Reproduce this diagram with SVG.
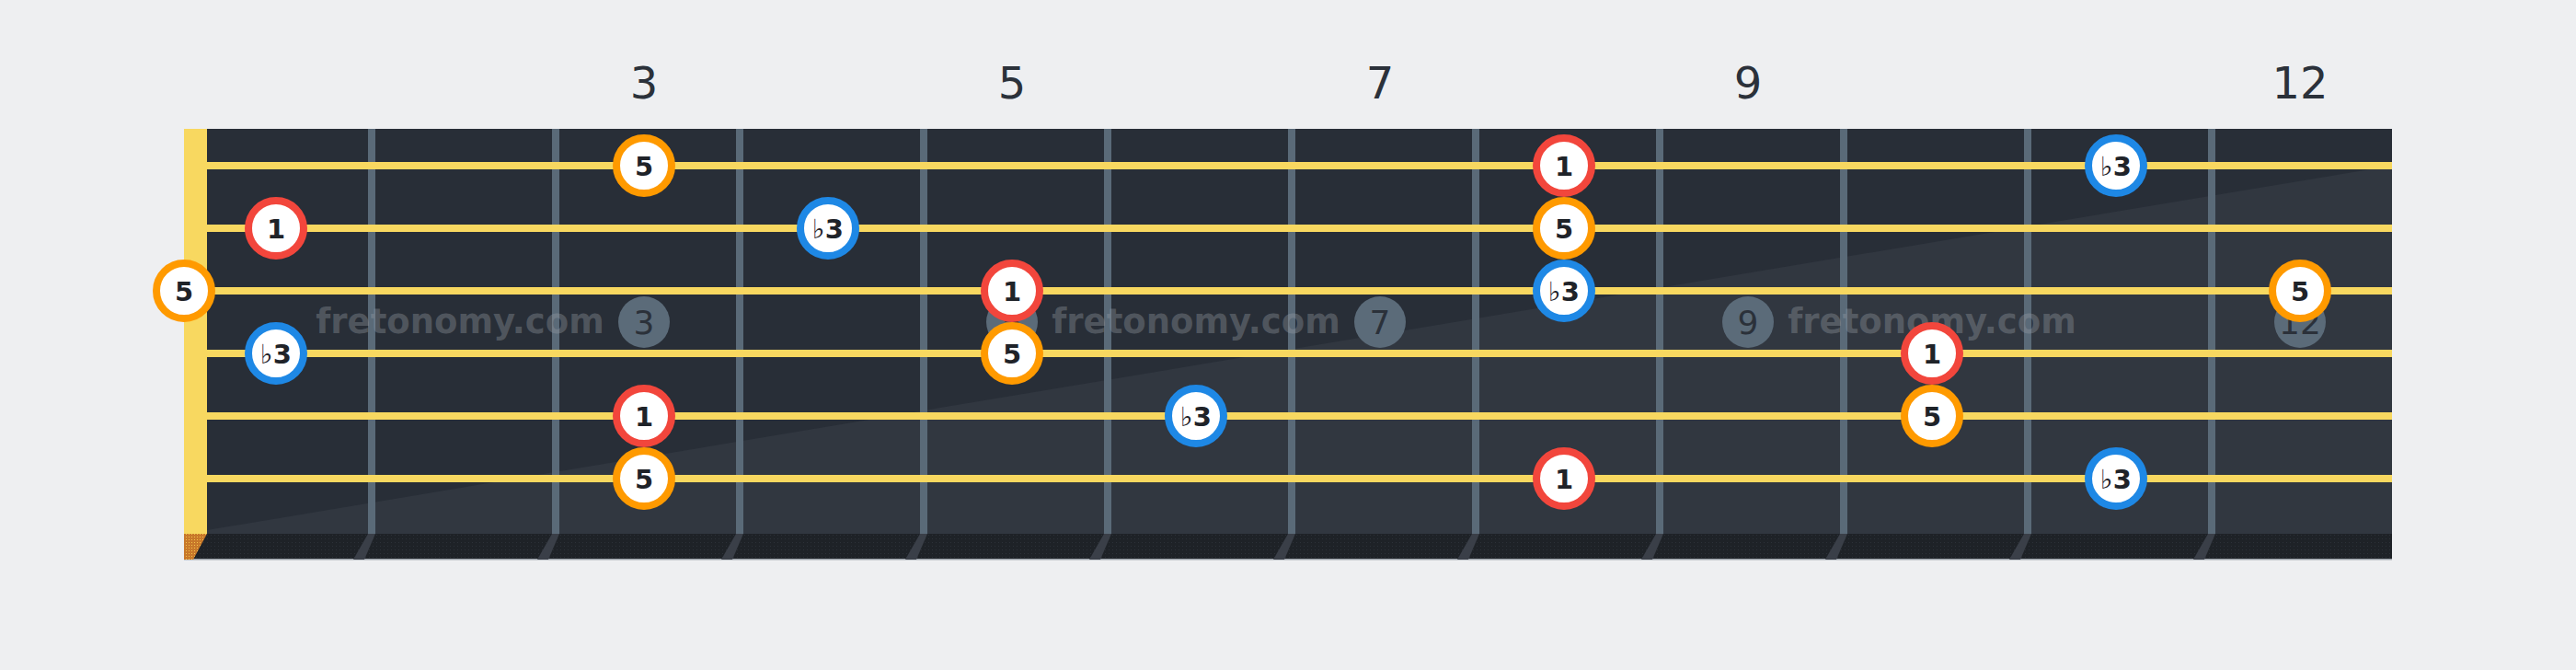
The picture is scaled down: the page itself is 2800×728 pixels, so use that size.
<svg xmlns="http://www.w3.org/2000/svg" width="2800" height="728" viewBox="0 0 2800 728">
<style>
.lbl{font-family:"DejaVu Sans",sans-serif;font-size:48px;fill:#2b313a;text-anchor:middle}
.inl{fill:#5b6b79}
.inlt{font-family:"DejaVu Sans",sans-serif;font-size:36px;fill:#2b313a;text-anchor:middle}
.wm{font-family:"DejaVu Sans",sans-serif;font-weight:bold;font-size:37px;fill:#9aa0a8;fill-opacity:0.36;text-anchor:middle}
.fret{fill:#5a6a78}
.str{fill:#f8d860}
.fs{fill:#3a3f48}
.n circle{fill:#ffffff;stroke-width:8}
.r circle{stroke:#f2463c}
.o circle{stroke:#ff9a00}
.b circle{stroke:#1e88e5}
.n text{font-family:"DejaVu Sans",sans-serif;font-weight:bold;font-size:29px;fill:#1f2329;text-anchor:middle}
.fl{font-weight:normal}
</style>
<defs>
<pattern id="dots" width="4" height="4" patternUnits="userSpaceOnUse"><rect width="4" height="4" fill="#1e2227"/><rect x="1" y="1" width="1" height="1" fill="#2c3138"/></pattern>
<pattern id="ndots" width="3" height="3" patternUnits="userSpaceOnUse"><rect width="3" height="3" fill="#c8782a"/><rect x="1" y="1" width="1" height="1" fill="#f2c24a"/></pattern>
</defs>
<rect width="2800" height="728" fill="#eeeff1"/>
<g id="fret-labels">
<text class="lbl" x="700" y="107">3</text>
<text class="lbl" x="1100" y="107">5</text>
<text class="lbl" x="1500" y="107">7</text>
<text class="lbl" x="1900" y="107">9</text>
<text class="lbl" x="2500" y="107">12</text>
</g>
<g id="board">
<rect x="225" y="140" width="2375" height="440" fill="#282e37"/>
<polygon points="225,576 2600,180 2600,580 225,580" fill="#313740"/>
<rect x="200" y="580" width="2400" height="28" fill="url(#dots)"/>
<rect x="200" y="607" width="2400" height="1.5" fill="#9aa1a9"/>
<rect x="200" y="140" width="25" height="440" fill="#f8d860"/>
<polygon points="200,580 225,580 210,608 200,608" fill="url(#ndots)"/>
</g>
<g id="frets">
<rect class="fret" x="400" y="140" width="8" height="440"/>
<rect class="fret" x="600" y="140" width="8" height="440"/>
<rect class="fret" x="800" y="140" width="8" height="440"/>
<rect class="fret" x="1000" y="140" width="8" height="440"/>
<rect class="fret" x="1200" y="140" width="8" height="440"/>
<rect class="fret" x="1400" y="140" width="8" height="440"/>
<rect class="fret" x="1600" y="140" width="8" height="440"/>
<rect class="fret" x="1800" y="140" width="8" height="440"/>
<rect class="fret" x="2000" y="140" width="8" height="440"/>
<rect class="fret" x="2200" y="140" width="8" height="440"/>
<rect class="fret" x="2400" y="140" width="8" height="440"/>
<polygon class="fs" points="400,580 408,580 396,608 384,608"/>
<polygon class="fs" points="600,580 608,580 596,608 584,608"/>
<polygon class="fs" points="800,580 808,580 796,608 784,608"/>
<polygon class="fs" points="1000,580 1008,580 996,608 984,608"/>
<polygon class="fs" points="1200,580 1208,580 1196,608 1184,608"/>
<polygon class="fs" points="1400,580 1408,580 1396,608 1384,608"/>
<polygon class="fs" points="1600,580 1608,580 1596,608 1584,608"/>
<polygon class="fs" points="1800,580 1808,580 1796,608 1784,608"/>
<polygon class="fs" points="2000,580 2008,580 1996,608 1984,608"/>
<polygon class="fs" points="2200,580 2208,580 2196,608 2184,608"/>
<polygon class="fs" points="2400,580 2408,580 2396,608 2384,608"/>
</g>
<g id="inlays">
<circle class="inl" cx="700" cy="350" r="28"/><text class="inlt" x="700" y="363">3</text>
<circle class="inl" cx="1100" cy="350" r="28"/><text class="inlt" x="1100" y="363">5</text>
<circle class="inl" cx="1500" cy="350" r="28"/><text class="inlt" x="1500" y="363">7</text>
<circle class="inl" cx="1900" cy="350" r="28"/><text class="inlt" x="1900" y="363">9</text>
<circle class="inl" cx="2500" cy="350" r="28"/><text class="inlt" x="2500" y="363">12</text>
</g>
<g id="watermarks">
<text class="wm" x="500" y="362">fretonomy.com</text>
<text class="wm" x="1300" y="362">fretonomy.com</text>
<text class="wm" x="2100" y="362">fretonomy.com</text>
</g>
<g id="strings">
<rect class="str" x="225" y="176" width="2375" height="8"/>
<rect class="str" x="225" y="244" width="2375" height="8"/>
<rect class="str" x="225" y="312" width="2375" height="8"/>
<rect class="str" x="225" y="380" width="2375" height="8"/>
<rect class="str" x="225" y="448" width="2375" height="8"/>
<rect class="str" x="225" y="516" width="2375" height="8"/>
</g>
<g id="notes">
<g id="n-s1-f3" class="n o"><circle cx="700" cy="180" r="30"/><text x="700" y="191">5</text></g>
<g id="n-s1-f8" class="n r"><circle cx="1700" cy="180" r="30"/><text x="1700" y="191">1</text></g>
<g id="n-s1-f11" class="n b"><circle cx="2300" cy="180" r="30"/><text x="2300" y="191"><tspan class="fl">♭</tspan>3</text></g>
<g id="n-s2-f1" class="n r"><circle cx="300" cy="248" r="30"/><text x="300" y="259">1</text></g>
<g id="n-s2-f4" class="n b"><circle cx="900" cy="248" r="30"/><text x="900" y="259"><tspan class="fl">♭</tspan>3</text></g>
<g id="n-s2-f8" class="n o"><circle cx="1700" cy="248" r="30"/><text x="1700" y="259">5</text></g>
<g id="n-s3-f0" class="n o"><circle cx="200" cy="316" r="30"/><text x="200" y="327">5</text></g>
<g id="n-s3-f5" class="n r"><circle cx="1100" cy="316" r="30"/><text x="1100" y="327">1</text></g>
<g id="n-s3-f8" class="n b"><circle cx="1700" cy="316" r="30"/><text x="1700" y="327"><tspan class="fl">♭</tspan>3</text></g>
<g id="n-s3-f12" class="n o"><circle cx="2500" cy="316" r="30"/><text x="2500" y="327">5</text></g>
<g id="n-s4-f1" class="n b"><circle cx="300" cy="384" r="30"/><text x="300" y="395"><tspan class="fl">♭</tspan>3</text></g>
<g id="n-s4-f5" class="n o"><circle cx="1100" cy="384" r="30"/><text x="1100" y="395">5</text></g>
<g id="n-s4-f10" class="n r"><circle cx="2100" cy="384" r="30"/><text x="2100" y="395">1</text></g>
<g id="n-s5-f3" class="n r"><circle cx="700" cy="452" r="30"/><text x="700" y="463">1</text></g>
<g id="n-s5-f6" class="n b"><circle cx="1300" cy="452" r="30"/><text x="1300" y="463"><tspan class="fl">♭</tspan>3</text></g>
<g id="n-s5-f10" class="n o"><circle cx="2100" cy="452" r="30"/><text x="2100" y="463">5</text></g>
<g id="n-s6-f3" class="n o"><circle cx="700" cy="520" r="30"/><text x="700" y="531">5</text></g>
<g id="n-s6-f8" class="n r"><circle cx="1700" cy="520" r="30"/><text x="1700" y="531">1</text></g>
<g id="n-s6-f11" class="n b"><circle cx="2300" cy="520" r="30"/><text x="2300" y="531"><tspan class="fl">♭</tspan>3</text></g>
</g>
</svg>
